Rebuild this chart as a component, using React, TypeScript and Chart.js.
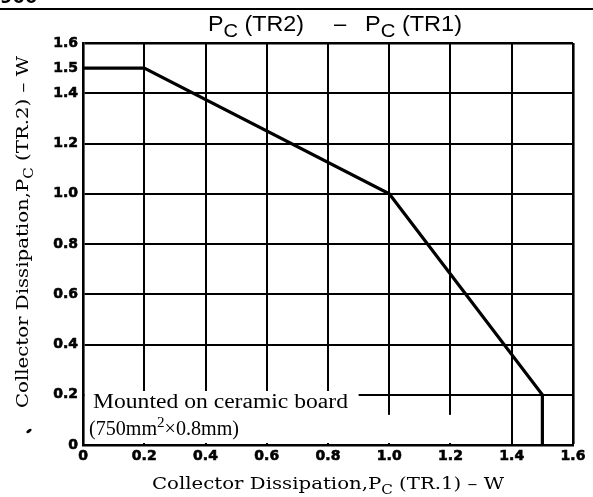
import React, { useEffect, useRef } from "react";
import { Chart, registerables } from "chart.js";
Chart.register(...registerables);

// ---- data ----
const xTickValues = [0, 0.2, 0.4, 0.6, 0.8, 1.0, 1.2, 1.4, 1.6];
const yTickValues = [0, 0.2, 0.4, 0.6, 0.8, 1.0, 1.2, 1.4, 1.5, 1.6];
const curveX = [0, 0.2, 1.0, 1.5, 1.5];
const curveY = [1.5, 1.5, 1.0, 0.2, 0];

type Part = { t: string; sub?: boolean; sup?: boolean };
const titleLeft: Part[] = [{ t: "P" }, { t: "C", sub: true }, { t: " (TR2)" }];
const titleRight: Part[] = [{ t: "P" }, { t: "C", sub: true }, { t: " (TR1)" }];
const xTitle: Part[] = [
  { t: "Collector Dissipation,P" },
  { t: "C", sub: true },
  { t: " (TR.1) \u2013 W" },
];
const yTitle: Part[] = [
  { t: "Collector Dissipation,P" },
  { t: "C", sub: true },
  { t: " (TR.2) \u2013 W" },
];
const noteLine1: Part[] = [{ t: "Mounted on ceramic board" }];
const noteLine2: Part[] = [{ t: "(750mm" }, { t: "2", sup: true }, { t: "\u00d70.8mm)" }];

function drawRich(
  ctx: CanvasRenderingContext2D,
  parts: Part[],
  x: number,
  y: number,
  size: number,
  family: string,
  weight: string,
  target: number | null,
  align: "left" | "center",
  subScale = 0.75
) {
  const fontFor = (p: Part) =>
    `${weight} ${p.sub || p.sup ? Math.round(size * subScale) : size}px ${family}`;
  const widths: number[] = [];
  let total = 0;
  for (const p of parts) {
    ctx.font = fontFor(p);
    const w = ctx.measureText(p.t).width;
    widths.push(w);
    total += w;
  }
  const sx = target ? target / total : 1;
  const w = total * sx;
  const x0 = align === "center" ? x - w / 2 : x;
  ctx.save();
  ctx.translate(x0, y);
  ctx.scale(sx, 1);
  ctx.textAlign = "left";
  ctx.textBaseline = "alphabetic";
  ctx.fillStyle = "#000";
  let cx = 0;
  parts.forEach((p, i) => {
    ctx.font = fontFor(p);
    const dy = p.sub ? size * 0.28 : p.sup ? -size * 0.42 : 0;
    ctx.fillText(p.t, cx, dy);
    cx += widths[i];
  });
  ctx.restore();
}

const whiteBoxPlugin = {
  id: "whiteBox",
  beforeDatasetsDraw(chart: any) {
    const { ctx, chartArea } = chart;
    const xs = chart.scales.x;
    const ys = chart.scales.y;
    ctx.save();
    ctx.fillStyle = "#fff";
    const l = chartArea.left + 2;
    const b = chartArea.bottom - 2;
    const r1 = xs.getPixelForValue(0.9);
    const t1 = ys.getPixelForValue(0.215);
    ctx.fillRect(l, t1, r1 - l, b - t1);
    const r2 = xs.getPixelForValue(1.35);
    const t2 = ys.getPixelForValue(0.12);
    ctx.fillRect(r1, t2, r2 - r1, b - t2);
    ctx.restore();
  },
};

const textPlugin = {
  id: "texts",
  afterDraw(chart: any) {
    const ctx: CanvasRenderingContext2D = chart.ctx;
    ctx.save();
    ctx.fillStyle = "#000";
    ctx.fillRect(0, 8, 593, 2);
    ctx.font = "bold 18px 'DejaVu Sans'";
    ctx.textBaseline = "alphabetic";
    ctx.fillText("900", 0, 3);
    // title
    drawRich(ctx, titleLeft, 208, 31, 22, "'Liberation Sans'", "normal", 96, "left", 0.85);
    drawRich(ctx, [{ t: "\u2013" }], 340, 31, 22, "'Liberation Sans'", "normal", null, "center");
    drawRich(ctx, titleRight, 365, 31, 22, "'Liberation Sans'", "normal", 97, "left", 0.85);
    // x title
    drawRich(ctx, xTitle, 328, 489, 17, "'DejaVu Serif'", "normal", 352, "center");
    // y title
    ctx.save();
    ctx.translate(28, 232);
    ctx.rotate(-Math.PI / 2);
    drawRich(ctx, yTitle, 0, 0, 17, "'DejaVu Serif'", "normal", 352, "center");
    ctx.restore();
    // note
    drawRich(ctx, noteLine1, 93, 408, 20, "'Liberation Serif'", "normal", 255, "left");
    drawRich(ctx, noteLine2, 89, 435, 20, "'Liberation Serif'", "normal", 150, "left");
    // speck
    ctx.beginPath();
    ctx.ellipse(29, 431, 3, 1.5, -0.6, 0, Math.PI * 2);
    ctx.fill();
    ctx.restore();
  },
};

const fmt = (v: number) => (v === 0 ? "0" : v.toFixed(1));

export default function App() {
  const ref = useRef<HTMLCanvasElement | null>(null);
  useEffect(() => {
    if (!ref.current) return;
    const tickFont = { family: "'DejaVu Sans'", weight: "bold" as const, size: 14 };
    const chart = new Chart(ref.current, {
      type: "scatter",
      data: {
        datasets: [
          {
            data: curveX.map((x, i) => ({ x, y: curveY[i] })),
            showLine: true,
            borderColor: "#000",
            borderWidth: 3.2,
            pointRadius: 0,
            tension: 0,
            fill: false,
          },
        ],
      },
      options: {
        animation: false,
        responsive: false,
        layout: { padding: { left: 0, top: 43, right: 20, bottom: 0 } },
        plugins: { legend: { display: false }, tooltip: { enabled: false } },
        scales: {
          x: {
            type: "linear",
            min: 0,
            max: 1.6,
            afterFit: (s: any) => {
              s.height = 52;
            },
            afterBuildTicks: (s: any) => {
              s.ticks = xTickValues.map((v) => ({ value: v }));
            },
            ticks: {
              color: "#000",
              font: tickFont,
              padding: 3,
              autoSkip: false,
              maxRotation: 0,
              textStrokeColor: "#000",
              textStrokeWidth: 0.6,
              callback: (v: any) => fmt(Number(v)),
            },
            grid: {
              color: "#000",
              lineWidth: (c: any) => (c.tick && c.tick.value === 1.6 ? 2.6 : 2),
              drawTicks: false,
            },
            border: { color: "#000", width: 2.6 },
          },
          y: {
            type: "linear",
            min: 0,
            max: 1.6,
            afterFit: (s: any) => {
              s.width = 83;
            },
            afterBuildTicks: (s: any) => {
              s.ticks = yTickValues.map((v) => ({ value: v }));
            },
            ticks: {
              color: "#000",
              font: tickFont,
              padding: 5,
              autoSkip: false,
              textStrokeColor: "#000",
              textStrokeWidth: 0.6,
              callback: (v: any) => fmt(Number(v)),
            },
            grid: {
              color: (c: any) => (c.tick && c.tick.value === 1.5 ? "rgba(0,0,0,0)" : "#000"),
              lineWidth: (c: any) => (c.tick && c.tick.value === 1.6 ? 2.6 : 2),
              drawTicks: false,
            },
            border: { color: "#000", width: 2.6 },
          },
        },
      },
      plugins: [whiteBoxPlugin, textPlugin],
    });
    return () => chart.destroy();
  }, []);
  return (
    <div style={{ position: "fixed", left: 0, top: 0, width: 593, height: 497, background: "#fff" }}>
      <canvas ref={ref} width={593} height={497} style={{ display: "block" }} />
    </div>
  );
}
